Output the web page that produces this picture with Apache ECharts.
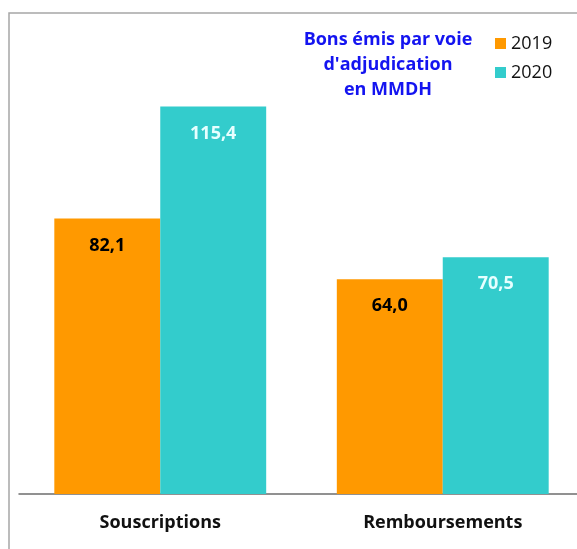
<!DOCTYPE html>
<html>
<head>
<meta charset="utf-8">
<script src="https://cdn.jsdelivr.net/npm/echarts@6/dist/echarts.min.js"></script>
<style>
    html, body { margin: 0; padding: 0; background: #fff; overflow: hidden; }
    #chart { width: 600px; height: 549px; }
</style>
</head>
<body>
<div id="chart"></div>
<script>
// data
const categories = ['Souscriptions', 'Remboursements']
const values2019 = [82.1, 64.0]
const values2020 = [115.4, 70.5]
const seriesNames = ['2019', '2020']
const titleLines = ['Bons émis par voie', "d'adjudication", 'en MMDH']

const font = '"Open Sans", "Noto Sans", sans-serif'
const fmt = p => p.value.toFixed(1).replace('.', ',')

const chart = echarts.init(document.getElementById('chart'))

chart.setOption({
    backgroundColor: '#fff',
    animation: false,
    title: {
        text: titleLines.join('\n'),
        left: 388,
        top: 27,
        padding: 0,
        textAlign: 'center',
        textStyle: {
            color: '#1414f0',
            fontFamily: font,
            fontWeight: 'bold',
            fontSize: 18,
            lineHeight: 25,
        },
    },
    legend: {
        orient: 'vertical',
        left: 495,
        top: 33,
        padding: 0,
        icon: 'rect',
        itemWidth: 11,
        itemHeight: 11,
        itemGap: 8,
        textStyle: { color: '#111', fontFamily: font, fontSize: 18, lineHeight: 21 },
        data: seriesNames,
    },
    grid: { left: 19, top: 24, width: 565, height: 470 },
    xAxis: {
        type: 'category',
        data: categories,
        axisLine: { lineStyle: { color: '#6e6e6e', width: 1.5 } },
        axisTick: { length: 6, lineStyle: { color: '#6e6e6e', width: 1.5 } },
        axisLabel: {
            margin: 20,
            color: '#111',
            fontFamily: font,
            fontWeight: 'bold',
            fontSize: 18,
        },
    },
    yAxis: { type: 'value', min: 0, max: 140, show: false },
    series: [
        {
            name: seriesNames[0],
            type: 'bar',
            data: values2019,
            barGap: '0%',
            barCategoryGap: '25%',
            itemStyle: { color: '#ff9900' },
            label: {
                show: true,
                position: 'insideTop',
                distance: 18,
                formatter: fmt,
                color: '#000',
                fontFamily: font,
                fontWeight: 'bold',
                fontSize: 18,
            },
        },
        {
            name: seriesNames[1],
            type: 'bar',
            data: values2020,
            barGap: '0%',
            barCategoryGap: '25%',
            itemStyle: { color: '#33cccc' },
            label: {
                show: true,
                position: 'insideTop',
                distance: 18,
                formatter: fmt,
                color: '#e6ffff',
                fontFamily: font,
                fontWeight: 'bold',
                fontSize: 18,
            },
        },
    ],
    graphic: [{
        type: 'rect',
        silent: true,
        z: -1,
        shape: { x: 9, y: 13, width: 620, height: 600 },
        style: { fill: null, stroke: '#a6a6a6', lineWidth: 1.5 },
    }],
})
</script>
</body>
</html>
